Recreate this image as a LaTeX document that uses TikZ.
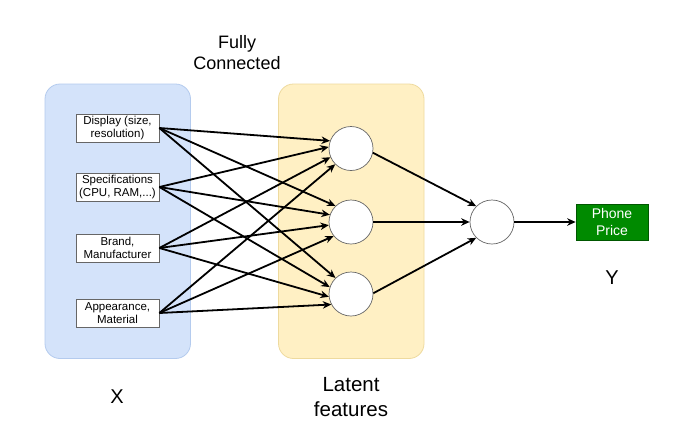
\documentclass[tikz,border=0pt]{standalone}
\usepackage{fontspec}
\setmainfont{Liberation Sans}
\usetikzlibrary{arrows.meta}
\definecolor{bluefill}{HTML}{D4E3FA}
\definecolor{blueline}{HTML}{B4CBEE}
\definecolor{yelfill}{HTML}{FFF0C4}
\definecolor{yelline}{HTML}{EEDA9E}
\definecolor{greenfill}{HTML}{008A00}
\definecolor{greenline}{HTML}{005700}
\definecolor{greyline}{HTML}{666666}
\tikzset{
  panel/.style={rounded corners=15pt, line width=0.8pt},
  inbox/.style={draw=greyline, fill=white, line width=0.7pt, minimum width=83pt, minimum height=28pt, inner sep=0pt, align=center, font=\fontsize{11.5}{13.5}\selectfont},
  neuron/.style={circle, draw=greyline, fill=white, line width=0.7pt, minimum size=44pt, inner sep=0pt},
  conn/.style={line width=1.8pt, -{Stealth[length=8.5pt,width=7.5pt]}},
  biglabel/.style={align=center, font=\fontsize{18}{21}\selectfont},
  axlabel/.style={font=\fontsize{20}{24}\selectfont},
}
\begin{document}
\begin{tikzpicture}[x=1pt,y=-1pt]
\useasboundingbox (0,0) rectangle (700,429);
\fill[white] (0,0) rectangle (700,429);
% panels
\draw[panel, fill=bluefill, draw=blueline] (45,84) rectangle (190.5,358.5);
\draw[panel, fill=yelfill, draw=yelline] (278.5,84) rectangle (424,358.5);
% inputs
\node[inbox] (i1) at (117.5,128) {Display (size,\\resolution)};
\node[inbox] (i2) at (117.5,187) {Specifications\\(CPU, RAM,...)};
\node[inbox] (i3) at (117.5,248) {Brand,\\Manufacturer};
\node[inbox] (i4) at (117.5,313) {Appearance,\\Material};
% hidden
\node[neuron] (h1) at (351,148.5) {};
\node[neuron] (h2) at (351,222) {};
\node[neuron] (h3) at (351,294) {};
\node[neuron] (o) at (492,222) {};
\node[draw=greenline, fill=greenfill, text=white, line width=0.7pt, minimum width=72pt, minimum height=36pt, inner sep=0pt, align=center, font=\fontsize{14}{17}\selectfont] (p) at (612,222) {Phone\\Price};
% labels
\node[biglabel] (fc) at (237,53) {Fully\\Connected};
\node[biglabel, font=\fontsize{20.5}{25}\selectfont] (lf) at (351,397) {Latent\\features};
\node[axlabel] (xl) at (117,397) {X};
\node[axlabel] (yl) at (612,278) {Y};
% edges to h1
\draw[conn] (i1.east) -- (h1.160);
\draw[conn] (i2.east) -- (h1.176);
\draw[conn] (i3.east) -- (h1.203);
\draw[conn] (i4.east) -- (h1.225);
% edges to h2
\draw[conn] (i1.east) -- (h2.134);
\draw[conn] (i2.east) -- (h2.161);
\draw[conn] (i3.east) -- (h2.188);
\draw[conn] (i4.east) -- (h2.219);
% edges to h3
\draw[conn] (i1.east) -- (h3.134);
\draw[conn] (i2.east) -- (h3.162);
\draw[conn] (i3.east) -- (h3.187);
\draw[conn] (i4.east) -- (h3.208);
% hidden to output
\draw[conn] (h1.-11) -- (o.135);
\draw[conn] (h2.east) -- (o.west);
\draw[conn] (h3.2) -- (o.225);
\draw[conn] (o.east) -- (p.west);
\end{tikzpicture}
\end{document}
